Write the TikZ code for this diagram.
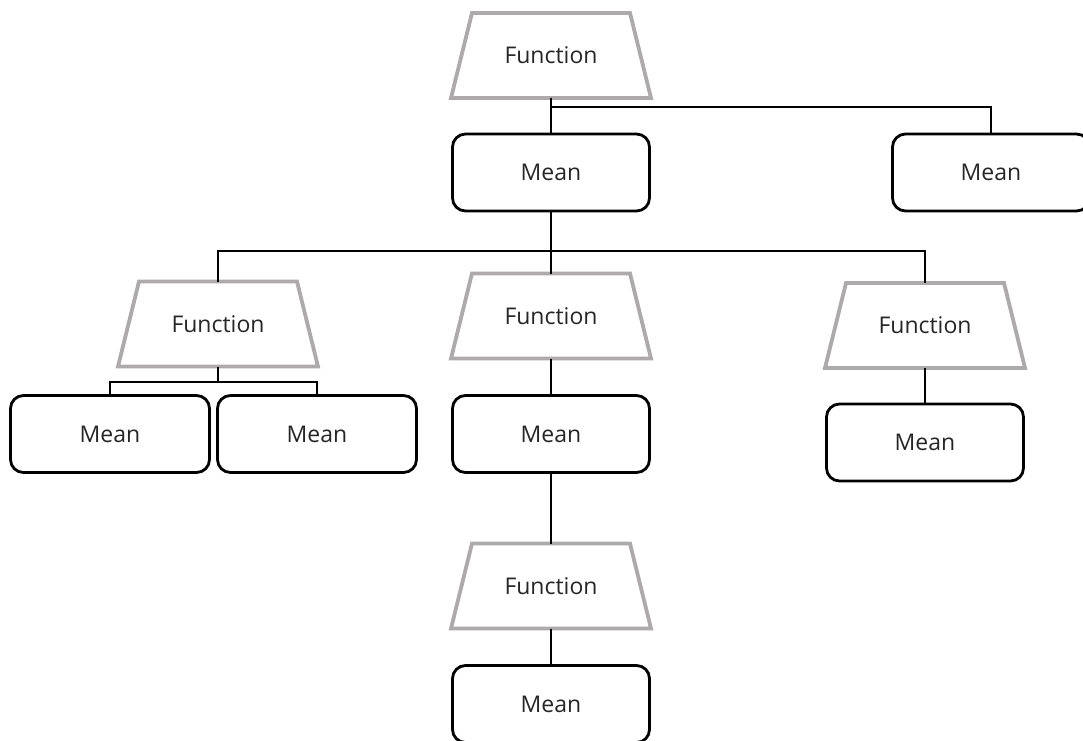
\documentclass[tikz,border=0pt]{standalone}
\usepackage{fontspec}
\setmainfont{Open Sans}
\definecolor{trapgray}{RGB}{172,170,170}
\definecolor{txt}{RGB}{38,38,38}
\tikzset{
  meanbox/.style={draw=black, line width=2.8pt, rounded corners=13pt, minimum width=197pt, minimum height=77pt, inner sep=0pt, outer sep=0pt, font=\fontsize{23}{27}\selectfont, text=txt, fill=white},
  funcbox/.style={rectangle, minimum width=200pt, minimum height=85pt, inner sep=0pt, outer sep=0pt, font=\fontsize{23}{27}\selectfont, text=txt},
  trapline/.style={draw=trapgray, line width=3.8pt, line join=miter},
  conn/.style={draw=black, line width=1.8pt}
}
\newcommand{\ftext}{\raisebox{-4pt}{Function}}
\newcommand{\trapdraw}[1]{%
  \draw[trapline] (#1.south west) -- ([xshift=21pt]#1.north west) -- ([xshift=-21pt]#1.north east) -- (#1.south east) -- cycle;}
\begin{document}
\begin{tikzpicture}[x=1pt,y=-1pt]
\useasboundingbox (0,0) rectangle (1083,740);
\clip (0,0) rectangle (1083,740);
\coordinate (j0) at (551,107);
\coordinate (j1) at (551,251);
\coordinate (j2) at (218,382);
% nodes
\node[funcbox] (F0) at (551,55.5) {\ftext};
\node[meanbox] (M0) at (551,172.5) {Mean};
\node[meanbox] (M1) at (991,172.5) {Mean};
\node[funcbox] (F1) at (218,324) {\ftext};
\node[funcbox] (F2) at (551,316) {\ftext};
\node[funcbox] (F3) at (925,325.5) {\ftext};
\node[meanbox, minimum width=199pt] (M11) at (110,434) {Mean};
\node[meanbox, minimum width=199pt] (M12) at (317,434) {Mean};
\node[meanbox] (M2) at (551,434) {Mean};
\node[meanbox] (M3) at (925,442.5) {Mean};
\node[funcbox] (F4) at (551,586) {\ftext};
\node[meanbox] (M4) at (551,704) {Mean};
\trapdraw{F0}\trapdraw{F1}\trapdraw{F2}\trapdraw{F3}\trapdraw{F4}
% edges
\draw[conn] (F0.south) -- (M0.north);
\draw[conn] (j0) -| (M1.north);
\draw[conn] (M0.south) -- (F2.north);
\draw[conn] (F1.north) -- (F1.north |- j1) -- (F3.north |- j1) -- (F3.north);
\draw[conn] (F1.south) -- (j2);
\draw[conn] (M11.north) -- (M11.north |- j2) -- (M12.north |- j2) -- (M12.north);
\draw[conn] (F2.south) -- (M2.north);
\draw[conn] (M2.south) -- (F4.north);
\draw[conn] (F4.south) -- (M4.north);
\draw[conn] (F3.south) -- (M3.north);
\end{tikzpicture}
\end{document}
